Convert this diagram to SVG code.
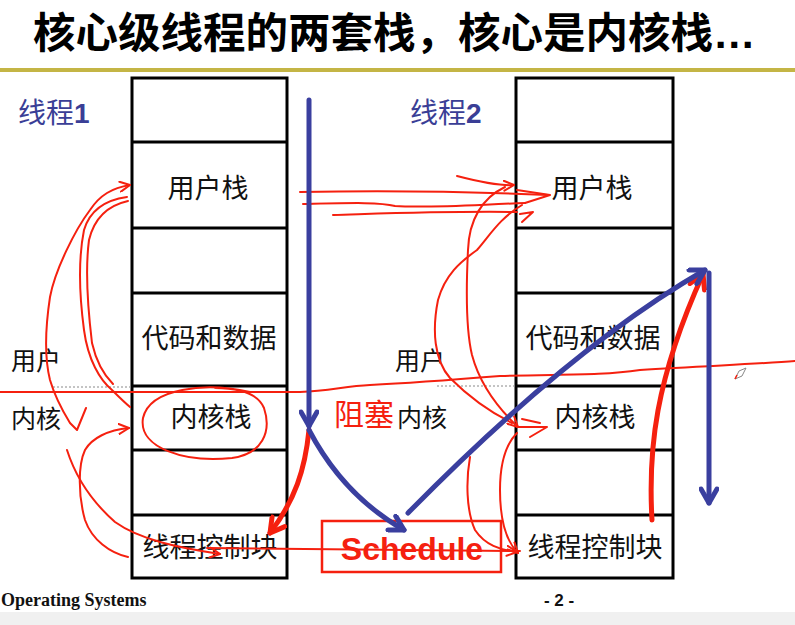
<svg xmlns="http://www.w3.org/2000/svg" width="795" height="625" viewBox="0 0 795 625">
<style>
.cell{fill:#fff;stroke:#000;stroke-width:3}
.row{stroke:#000;stroke-width:3}
.lbl{font-family:"Noto Sans CJK SC","Noto Sans",sans-serif;font-size:27px;fill:#111;text-anchor:middle}
.side{font-family:"Noto Sans CJK SC","Noto Sans",sans-serif;font-size:25px;fill:#111}
.thr{font-family:"Noto Sans CJK SC","Noto Sans",sans-serif;font-size:28px;fill:#3a3e96}
.dot{stroke:#888;stroke-width:1;stroke-dasharray:2 2}
.ink{fill:none;stroke:#f5200f;stroke-width:2;stroke-linecap:round;stroke-linejoin:round}
.thick{fill:none;stroke:#f5200f;stroke-width:5;stroke-linecap:round}
.blue{fill:none;stroke:#3a3f9f;stroke-width:5;stroke-linecap:round}
</style>
<defs>
<marker id="bh" viewBox="0 0 20 20" refX="17" refY="10" markerWidth="20" markerHeight="20" markerUnits="userSpaceOnUse" orient="auto"><path d="M3,2 L17,10 L3,18" fill="none" stroke="#3a3f9f" stroke-width="5" stroke-linejoin="round" stroke-linecap="round"/></marker>
<marker id="rh" viewBox="0 0 20 20" refX="17" refY="10" markerWidth="20" markerHeight="20" markerUnits="userSpaceOnUse" orient="auto"><path d="M3,2 L17,10 L3,18" fill="none" stroke="#f5200f" stroke-width="5" stroke-linejoin="round" stroke-linecap="round"/></marker>
<marker id="th" viewBox="0 0 12 12" refX="11" refY="6" markerWidth="12" markerHeight="12" markerUnits="userSpaceOnUse" orient="auto"><path d="M1,1 L11,6 L1,11" fill="none" stroke="#f5200f" stroke-width="2" stroke-linejoin="round" stroke-linecap="round"/></marker>
</defs>
<rect width="795" height="625" fill="#fff"/>
<rect y="612" width="795" height="13" fill="#f0f0f0"/>

<g id="title">
<text x="33" y="48" font-family="'Noto Sans CJK SC','Noto Sans',sans-serif" font-size="42.5" font-weight="bold" fill="#000">核心级线程的两套栈，核心是内核栈<tspan font-family="'Liberation Sans',sans-serif">…</tspan></text>
<rect x="0" y="68" width="795" height="4" fill="#c4b545"/>
</g>

<g id="thread1-label"><text class="thr" x="18" y="123">线程<tspan font-family="'Liberation Sans',sans-serif" font-weight="bold">1</tspan></text></g>
<g id="thread2-label"><text class="thr" x="410" y="123">线程<tspan font-family="'Liberation Sans',sans-serif" font-weight="bold">2</tspan></text></g>

<g id="stack1">
<rect class="cell" x="132" y="78" width="155" height="500"/>
<line class="row" x1="132" y1="142" x2="287" y2="142"/>
<line class="row" x1="132" y1="228" x2="287" y2="228"/>
<line class="row" x1="132" y1="293" x2="287" y2="293"/>
<line class="row" x1="132" y1="386" x2="287" y2="386"/>
<line class="row" x1="132" y1="450" x2="287" y2="450"/>
<line class="row" x1="132" y1="515" x2="287" y2="515"/>
<text class="lbl" x="208" y="198">用户栈</text>
<text class="lbl" x="209" y="348">代码和数据</text>
<text class="lbl" x="211" y="427">内核栈</text>
<text class="lbl" x="210" y="557">线程控制块</text>
</g>

<g id="stack2">
<rect class="cell" x="516" y="78" width="157" height="500"/>
<line class="row" x1="516" y1="142" x2="673" y2="142"/>
<line class="row" x1="516" y1="228" x2="673" y2="228"/>
<line class="row" x1="516" y1="293" x2="673" y2="293"/>
<line class="row" x1="516" y1="386" x2="673" y2="386"/>
<line class="row" x1="516" y1="450" x2="673" y2="450"/>
<line class="row" x1="516" y1="515" x2="673" y2="515"/>
<text class="lbl" x="592" y="198">用户栈</text>
<text class="lbl" x="593" y="348">代码和数据</text>
<text class="lbl" x="595" y="427">内核栈</text>
<text class="lbl" x="595" y="557">线程控制块</text>
</g>

<g id="mode-labels">
<line class="dot" x1="53" y1="387" x2="131" y2="387"/>
<line class="dot" x1="437" y1="386" x2="515" y2="386"/>
<text class="side" x="11" y="370">用户</text>
<text class="side" x="11" y="428">内核</text>
<text class="side" x="395" y="370">用户</text>
<text x="334" y="425" font-family="'Noto Sans CJK SC',sans-serif" font-size="30" fill="#f5200f">阻塞</text>
<text class="side" x="397" y="427">内核</text>
</g>

<g id="schedule">
<rect x="322" y="521" width="179" height="51" fill="none" stroke="#f5200f" stroke-width="2.5"/>
<text x="412" y="560" font-family="'Liberation Sans',Arial,sans-serif" font-size="32" font-weight="bold" fill="#f5200f" text-anchor="middle">Schedule</text>
</g>

<g id="footer">
<text x="1" y="606" font-family="'Liberation Serif','Times New Roman',serif" font-size="18" font-weight="bold" fill="#111">Operating Systems</text>
<text x="559" y="606" font-family="'Liberation Sans',Arial,sans-serif" font-size="17" font-weight="bold" fill="#111" text-anchor="middle">- 2 -</text>
</g>

<g id="connectors">
<!-- thin red annotations -->
<path class="ink" d="M0,392 L300,392 C330,391 345,386 370,385 C410,383 450,380 500,376 C560,374 600,376 640,370 C700,366 760,364 795,361"/>
<path class="ink" d="M207,548 L520,551"/>
<path class="ink" d="M300,192 C400,190 480,192 548,195"/>
<path class="ink" d="M303,204 C350,203 380,202 395,206 C430,208 470,205 525,203"/>
<path class="ink" d="M333,215 C400,213 450,211 517,212"/>
<path class="ink" d="M457,176 C480,182 500,186 514,185" marker-end="url(#th)"/>
<path class="ink" d="M517,190 L550,195 L525,203 M520,214 L533,212 L522,222"/>
<path class="ink" d="M86,408 L77,430 L70,423 C62,410 55,397 50,380 C45,360 45,330 50,297 C55,270 75,230 90,210 C100,195 112,188 130,185" marker-end="url(#th)"/>
<path class="ink" d="M127,197 C105,200 90,210 84,230 C78,260 80,300 84,330 C88,360 100,380 112,390 C118,396 124,402 130,407"/>
<path class="ink" d="M128,201 C110,205 95,215 89,240 C85,270 88,310 92,343 C97,365 106,377 113,384"/>
<path class="ink" d="M128,557 C110,553 92,540 85,520 C78,495 78,465 85,450 C92,438 108,430 129,428" marker-end="url(#th)"/>
<path class="ink" d="M67,450 C75,475 90,500 115,522 C140,540 180,548 220,554" marker-end="url(#th)"/>
<path class="ink" d="M250,392 C205,382 150,388 143,418 C138,448 185,463 232,458 C262,454 272,432 264,408 C258,394 240,388 215,388"/>
<path class="ink" d="M505,187 C482,198 469,220 468,250 C466,290 466,330 472,355 C480,385 500,410 518,427" marker-end="url(#th)"/>
<path class="ink" d="M522,205 C500,218 490,235 477,250 C460,262 445,275 438,300 C432,330 434,360 450,378 C470,398 490,412 512,423"/>
<path class="ink" d="M517,427 L547,427 L530,437 M522,419 L540,423"/>
<path class="ink" d="M517,433 C505,445 500,465 500,490 C500,515 505,540 518,553" marker-end="url(#th)"/>
<path class="ink" d="M470,457 C466,480 466,510 475,530 C485,545 500,550 517,552" marker-end="url(#th)"/>
<path d="M735,379 L739,371 L746,368 L742,376 Z" fill="#fff" stroke="#888" stroke-width="1"/>
<path d="M735,379 L737,375" stroke="#f5200f" stroke-width="1.5"/>
<!-- thick red arrows -->
<path class="thick" d="M309,430 C305,470 295,500 270,533" marker-end="url(#rh)"/>
<path class="thick" d="M652,520 C648,450 655,380 703,274" marker-end="url(#rh)"/>
<!-- blue execution flow -->
<path class="blue" d="M309,100 L309,426" marker-end="url(#bh)"/>
<path class="blue" d="M309,430 C330,470 360,505 404,530" marker-end="url(#bh)"/>
<path class="blue" d="M408,513 Q571,347 705,270" marker-end="url(#bh)"/>
<path class="blue" d="M709,273 L709,503" marker-end="url(#bh)"/>
</g>
</svg>
